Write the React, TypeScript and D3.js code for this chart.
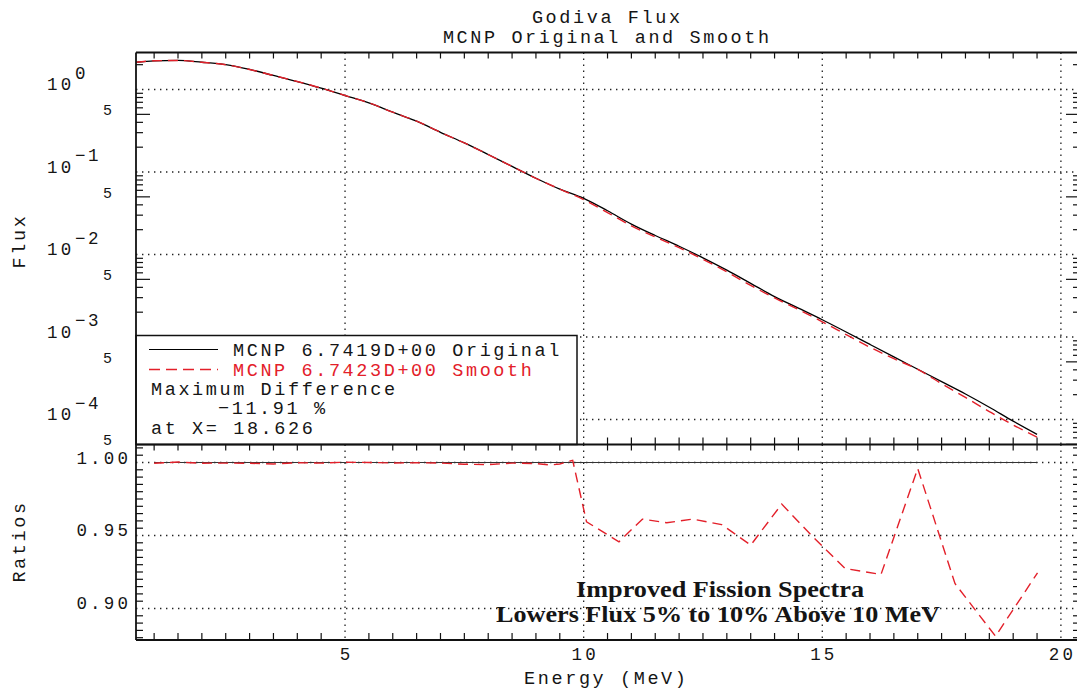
import React from 'react';
import * as d3 from 'd3';

// ---------- data ----------
const energies = [0.62, 1.0, 1.5, 2.0, 2.5, 3.0, 3.5, 4.0, 4.5, 5.0, 5.5, 6.0, 6.5, 7.0, 7.5, 8.0, 8.5, 9.0, 9.5,
  10.0, 10.5, 11.0, 11.5, 12.0, 12.5, 13.0, 13.5, 14.0, 14.5, 15.0, 15.5, 16.0, 16.5, 17.0, 17.5, 18.0, 18.5, 19.0, 19.5];
const fluxOriginal = [2.14, 2.23, 2.25, 2.14, 2.0, 1.75, 1.48, 1.25, 1.04, 0.846, 0.689, 0.531, 0.413, 0.303, 0.225, 0.163, 0.117, 0.084, 0.062,
  0.0479, 0.0339, 0.0234, 0.0170, 0.0126, 0.00912, 0.00646, 0.00447, 0.00309, 0.00224, 0.00162, 0.00115, 8.13e-4, 5.75e-4, 4.07e-4, 2.88e-4, 2.04e-4, 1.41e-4, 9.55e-5, 6.61e-5];
const fluxSmooth = [2.14, 2.23, 2.25, 2.14, 2.0, 1.75, 1.48, 1.25, 1.04, 0.846, 0.689, 0.531, 0.413, 0.303, 0.225, 0.163, 0.117, 0.084, 0.062,
  0.0464, 0.0322, 0.0223, 0.0163, 0.0121, 0.00876, 0.00617, 0.00422, 0.00298, 0.00215, 0.00153, 0.00107, 7.51e-4, 5.46e-4, 4.05e-4, 2.72e-4, 1.85e-4, 1.25e-4, 8.58e-5, 6.11e-5];

const ratioEnergies = [1.0, 1.5, 2.0, 2.5, 3.0, 3.5, 4.0, 4.5, 5.0, 5.5, 6.0, 6.5, 7.0, 7.5, 8.0, 8.5, 9.0, 9.3, 9.5, 9.77,
  10.06, 10.74, 11.23, 11.74, 12.28, 12.89, 13.5, 14.15, 14.82, 15.48, 16.23, 17.0, 17.78, 18.63, 19.51];
const ratioSmooth = [0.9995, 1.0003, 0.9995, 0.9996, 0.9995, 0.999, 0.9998, 0.9996, 1.0002, 1.0, 0.9997, 0.9998, 0.9996, 0.9988, 0.9986, 0.9996, 0.9993, 0.9983, 0.999, 1.0015,
  0.9594, 0.9457, 0.9612, 0.9587, 0.9612, 0.9575, 0.9434, 0.9715, 0.9485, 0.9274, 0.9233, 0.9959, 0.9171, 0.881, 0.9244];
const ratioOriginalEnergies = [1.0, 19.51];
const ratioOriginal = [1.0, 1.0];

const xTickLabels = [5, 10, 15, 20];
const fluxDecades = [1, 0.1, 0.01, 0.001, 0.0001];
const fluxDecadeExponents = ['0', '\u22121', '\u22122', '\u22123', '\u22124'];
const fluxFiveTicks = [0.5, 0.05, 0.005, 0.0005, 0.00005];
const ratioTickValues = [1.0, 0.95, 0.9];
const ratioTickLabels = ['1.00', '0.95', '0.90'];

const titleLines = ['Godiva Flux', 'MCNP Original and Smooth'];
const legendLines = ['MCNP 6.7419D+00 Original', 'MCNP 6.7423D+00 Smooth'];
const legendNotes = ['Maximum Difference', '\u221211.91 %', 'at X= 18.626'];
const annotation = ['Improved Fission Spectra', 'Lowers Flux 5% to 10% Above 10 MeV'];

// ---------- layout ----------
const W = 1077, H = 693;
const L = 136, R = 1080;
const TOP = 52.5, MID = 444.5, BOT = 640;
const MONO = "'Liberation Mono', 'Courier New', monospace";
const SERIF = "'Liberation Serif', 'Times New Roman', serif";
const RED = '#e3202a';
const INK = '#151515';

const FS = 18.5, LS = 2.6;
const TFS = 17.5, TLS = 3.2;

export default function App() {
  const x = d3.scaleLinear().domain([0.62, 20.4]).range([L, R]);
  const yTop = d3.scaleLog().domain([4.98e-5, 2.81]).range([MID, TOP]);
  const yBot = d3.scaleLinear().domain([0.87842, 1.01233]).range([BOT, MID]);

  const lineTop = (vals: number[]) =>
    d3.line<number>().x((_, i) => x(energies[i])).y(d => yTop(d)).curve(d3.curveMonotoneX)(vals) || '';
  const lineBot = (es: number[], vals: number[]) =>
    d3.line<number>().x((_, i) => x(es[i])).y(d => yBot(d))(vals) || '';

  const xMinor = d3.range(1, 20, 0.5).filter(v => Math.abs(v % 5) > 1e-6);
  const xGrid = [5, 10, 15, 20];

  const logMinor: number[] = [];
  const logMajor5: number[] = [];
  for (let e = -5; e <= 0; e++) {
    for (let m = 2; m <= 9; m++) {
      const v = m * Math.pow(10, e);
      if (v >= 4.97e-5 && v <= 2.81) {
        if (m === 5) logMajor5.push(v); else logMinor.push(v);
      }
    }
  }
  const ratioMinor = d3.range(0, 27).map(i => 0.88 + i * 0.005)
    .filter(v => v <= 1.0123 && !ratioTickValues.some(t => Math.abs(t - v) < 1e-6));

  const grid = { stroke: '#222', strokeWidth: 1.3, strokeDasharray: '1.4 4.6' } as const;
  const tick = { stroke: '#111', strokeWidth: 1.2 } as const;
  const mono = { fontFamily: MONO, fontSize: FS, letterSpacing: LS, fill: INK } as const;
  const monoT = { fontFamily: MONO, fontSize: TFS, letterSpacing: TLS, fill: INK } as const;

  return (
    <svg width={W} height={H} style={{ position: 'absolute', left: 0, top: 0, background: '#fff' }}>
      <rect x={0} y={0} width={W} height={H} fill="#fff" />
      {titleLines.map((t, i) => (
        <text key={t} x={606 + LS / 2} y={23 + i * 19.8} textAnchor="middle" {...mono}>{t}</text>
      ))}

      {fluxDecades.map(d => (
        <line key={'gh' + d} x1={L} x2={R} y1={yTop(d)} y2={yTop(d)} {...grid} />
      ))}
      {xGrid.map(v => (
        <line key={'gvt' + v} x1={x(v)} x2={x(v)} y1={TOP} y2={MID} {...grid} />
      ))}
      {ratioTickValues.map(v => (
        <line key={'gb' + v} x1={L} x2={R} y1={yBot(v)} y2={yBot(v)} {...grid} />
      ))}
      {xGrid.map(v => (
        <line key={'gvb' + v} x1={x(v)} x2={x(v)} y1={MID} y2={BOT} {...grid} />
      ))}

      <path d={lineTop(fluxOriginal)} fill="none" stroke="#000" strokeWidth={1.3} />
      <path d={lineTop(fluxSmooth)} fill="none" stroke={RED} strokeWidth={1.4} strokeDasharray="10 6" />

      <path d={lineBot(ratioOriginalEnergies, ratioOriginal)} fill="none" stroke="#333" strokeWidth={1.2} />
      <path d={lineBot(ratioEnergies, ratioSmooth)} fill="none" stroke={RED} strokeWidth={1.4} strokeDasharray="10 6" />

      {xMinor.map(v => (
        <g key={'xt' + v}>
          <line x1={x(v)} x2={x(v)} y1={TOP} y2={TOP + 6} {...tick} />
          <line x1={x(v)} x2={x(v)} y1={MID - 7} y2={MID + 6} {...tick} />
          <line x1={x(v)} x2={x(v)} y1={BOT - 7} y2={BOT} {...tick} />
        </g>
      ))}
      {logMinor.map(v => (
        <g key={'lm' + v}>
          <line x1={L} x2={L + 7} y1={yTop(v)} y2={yTop(v)} {...tick} />
          <line x1={R - 7} x2={R} y1={yTop(v)} y2={yTop(v)} {...tick} />
        </g>
      ))}
      {logMajor5.map(v => (
        <g key={'l5' + v}>
          <line x1={L} x2={L + 14} y1={yTop(v)} y2={yTop(v)} {...tick} />
          <line x1={R - 14} x2={R} y1={yTop(v)} y2={yTop(v)} {...tick} />
        </g>
      ))}
      {ratioMinor.map(v => (
        <g key={'rm' + v}>
          <line x1={L} x2={L + 7} y1={yBot(v)} y2={yBot(v)} {...tick} />
          <line x1={R - 7} x2={R} y1={yBot(v)} y2={yBot(v)} {...tick} />
        </g>
      ))}

      <rect x={L} y={335.5} width={577 - L} height={MID - 335.5} fill="#fff" stroke="#111" strokeWidth={1.5} />
      <line x1={149} x2={218} y1={349.5} y2={349.5} stroke="#000" strokeWidth={1.2} />
      <text x={233} y={356} {...mono}>{legendLines[0]}</text>
      <line x1={149} x2={218} y1={369.5} y2={369.5} stroke={RED} strokeWidth={1.4} strokeDasharray="11 6" />
      <text x={233} y={375.5} {...mono} fill={RED}>{legendLines[1]}</text>
      <text x={151} y={395} {...mono}>{legendNotes[0]}</text>
      <text x={218} y={414} {...mono}>{legendNotes[1]}</text>
      <text x={151} y={433.5} {...mono}>{legendNotes[2]}</text>

      <line x1={L} x2={W} y1={TOP} y2={TOP} stroke="#111" strokeWidth={1.8} />
      <line x1={L} x2={W} y1={MID} y2={MID} stroke="#111" strokeWidth={1.8} />
      <line x1={L} x2={W} y1={BOT} y2={BOT} stroke="#111" strokeWidth={1.8} />
      <line x1={L} x2={L} y1={TOP} y2={BOT} stroke="#111" strokeWidth={1.8} />
      <line x1={R} x2={R} y1={TOP} y2={BOT} stroke="#111" strokeWidth={1.8} />

      {fluxDecades.map((d, i) => (
        <g key={'yl' + d}>
          <text x={47} y={yTop(d) + 0.5} {...monoT}>10</text>
          <text x={75} y={yTop(d) - 11} {...monoT} letterSpacing={2.4}>{fluxDecadeExponents[i]}</text>
        </g>
      ))}
      {fluxFiveTicks.map(v => (
        <text key={'y5' + v} x={112} y={yTop(v) + 1} textAnchor="end" fontFamily={MONO} fontSize={15} fill={INK}>5</text>
      ))}
      {ratioTickValues.map((v, i) => (
        <text key={'rl' + v} x={128 + TLS} y={yBot(v) + 1} textAnchor="end" {...monoT}>{ratioTickLabels[i]}</text>
      ))}
      {xTickLabels.map(v => (
        <text key={'xl' + v} x={x(v) + TLS / 2} y={660} textAnchor="middle" {...monoT}>{v}</text>
      ))}
      <text x={605 + LS / 2} y={684} textAnchor="middle" {...mono}>Energy (MeV)</text>
      <text transform="translate(25,241) rotate(-90)" textAnchor="middle" {...mono}>Flux</text>
      <text transform="translate(25,541.5) rotate(-90)" textAnchor="middle" {...mono}>Ratios</text>

      <text x={720} y={597} textAnchor="middle" fontFamily={SERIF} fontWeight="bold" fontSize={22.5}
        textLength={288} lengthAdjust="spacingAndGlyphs" fill={INK}>{annotation[0]}</text>
      <text x={718} y={622} textAnchor="middle" fontFamily={SERIF} fontWeight="bold" fontSize={22.5}
        textLength={444} lengthAdjust="spacingAndGlyphs" fill={INK}>{annotation[1]}</text>
    </svg>
  );
}
